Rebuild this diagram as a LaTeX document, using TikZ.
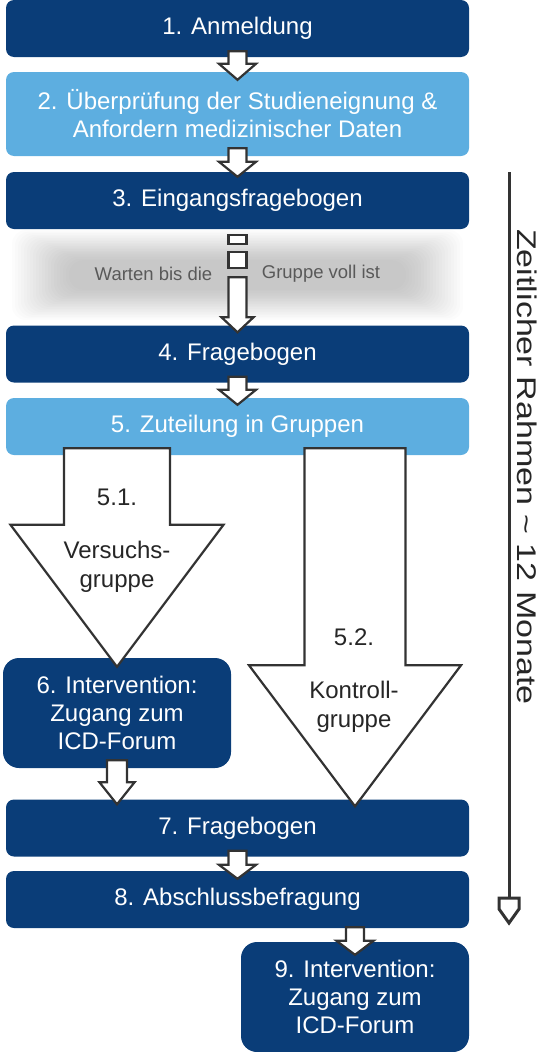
\documentclass[tikz,border=0pt]{standalone}
\usepackage{fontspec}
\setmainfont{Liberation Sans}
\usetikzlibrary{calc}
\definecolor{boxblue}{HTML}{0A3D78}
\definecolor{lightblue}{HTML}{5DAEE0}
\definecolor{arrowgray}{HTML}{333333}
\definecolor{waitgray}{HTML}{595959}
\tikzset{
  darkbox/.style={fill=boxblue,text=white,rounded corners=8pt,align=center,inner sep=0pt,minimum width=463pt,minimum height=57pt,font=\fontsize{24}{28}\selectfont},
  lightbox/.style={darkbox,fill=lightblue},
  sidebox/.style={darkbox,rounded corners=16pt,minimum width=228pt,minimum height=110pt},
  blockarrow/.style={draw=arrowgray,fill=white,line width=2.2pt,line join=miter},
  armtext/.style={text=black!85,align=center,font=\fontsize{24}{29}\selectfont},
  waittext/.style={text=waitgray,font=\fontsize{18.5}{22}\selectfont},
  timeline/.style={draw=arrowgray,line width=3pt},
  timetext/.style={text=black!85,rotate=-90,font=\fontsize{27}{30}\selectfont},
}
% block arrow: top, tip, shaft half width, head half width, head length
\newcommand{\blockarr}[5]{%
  \draw[blockarrow] let \p1=#1, \p2=#2 in
    (\x2-#3pt,\y1) -- (\x2+#3pt,\y1) -- (\x2+#3pt,\y2+#5pt) -- (\x2+#4pt,\y2+#5pt)
    -- (\x2,\y2) -- (\x2-#4pt,\y2+#5pt) -- (\x2-#3pt,\y2+#5pt) -- cycle;}

\begin{document}
\begin{tikzpicture}[x=1pt,y=-1pt]
	\useasboundingbox (0,0) rectangle (543,1052);
	% waiting band
	\foreach \k in {0,...,19}
		\fill[black,opacity=.012,rounded corners=14pt] (12+3*\k,230+1.6*\k) rectangle (463-3*\k,320-1.6*\k);
	\node[waittext] (w1) at (153.5,274) {Warten bis die};
	\node[waittext] (w2) at (321,274) {Gruppe voll ist};
	% steps
	\node[darkbox] (b1) at (237.5,28.5) {1. Anmeldung};
	\node[lightbox,minimum height=84pt] (b2) at (237.5,114) {2. Überprüfung der Studieneignung \&\\Anfordern medizinischer Daten};
	\node[darkbox] (b3) at (237.5,200.5) {3. Eingangsfragebogen};
	\node[darkbox] (b4) at (237.5,354) {4. Fragebogen};
	\node[lightbox] (b5) at (237.5,426.5) {5. Zuteilung in Gruppen};
	\node[sidebox] (b6) at (117,713) {6. Intervention:\\Zugang zum\\ICD-Forum};
	\node[darkbox] (b7) at (237.5,828) {7. Fragebogen};
	\node[darkbox] (b8) at (237.5,899.5) {8. Abschlussbefragung};
	\node[sidebox] (b9) at (355,997) {9. Intervention:\\Zugang zum\\ICD-Forum};
	% arrows
	\blockarr{($(b1.south)+(0,6pt)$)}{($(b2.north)+(0,-8pt)$)}{9}{18.5}{16}
	\blockarr{($(b2.south)+(0,8pt)$)}{($(b3.north)+(0,-5pt)$)}{9}{18.5}{15}
	\draw[blockarrow] ($(b3.south)+(-9pt,-6pt)$) rectangle ($(b3.south)+(9pt,-15pt)$);
	\draw[blockarrow] ($(b3.south)+(-9pt,-23pt)$) rectangle ($(b3.south)+(9pt,-39pt)$);
	\blockarr{($(b3.south)+(0,-48pt)$)}{($(b4.north)+(0,-7pt)$)}{9}{16}{15}
	\blockarr{($(b4.south)+(0,6pt)$)}{($(b5.north)+(0,-7pt)$)}{9}{18.5}{15}
	\blockarr{($(b5.south)+(0,7pt)$)}{($(b6.north)+(0,-9pt)$)}{53}{106.5}{142}
	\blockarr{($(b5.south)+(0,7pt)$)}{($(b7.north -| b9.north)+(0,-7pt)$)}{50.5}{106}{141}
	\blockarr{($(b6.south)+(0,8pt)$)}{($(b6.south |- b7.north)+(0,-5pt)$)}{10}{17.5}{22}
	\blockarr{($(b7.south)+(0,6pt)$)}{($(b8.north)+(0,-8pt)$)}{9}{18.5}{14}
	\blockarr{($(b8.south)+(0,1pt)$)}{($(b9.north)+(0,-13pt)$)}{9}{18.5}{14}
	\node[armtext] (g1) at (117,497) {5.1.};
	\node[armtext] (v1) at (117,567) {Versuchs-\\gruppe};
	\node[armtext] (g2) at (354,637) {5.2.};
	\node[armtext] (k2) at (354,707) {Kontroll-\\gruppe};
	% time frame
	\coordinate (ttop) at (509,172);
	\coordinate (tend) at (509,898);
	\draw[timeline] (ttop) -- (tend);
	\draw[timeline,fill=white,line join=miter] (tend) ++(-10pt,0) -- ++(20pt,0) -- ++(0,-11pt) -- ++(-10pt,-14pt) -- ++(-10pt,14pt) -- cycle;
	\node[timetext] (tlabel) at (527,467) {\scalebox{1.26}[1]{Zeitlicher Rahmen \textasciitilde{} 12 Monate}};
\end{tikzpicture}
\end{document}
